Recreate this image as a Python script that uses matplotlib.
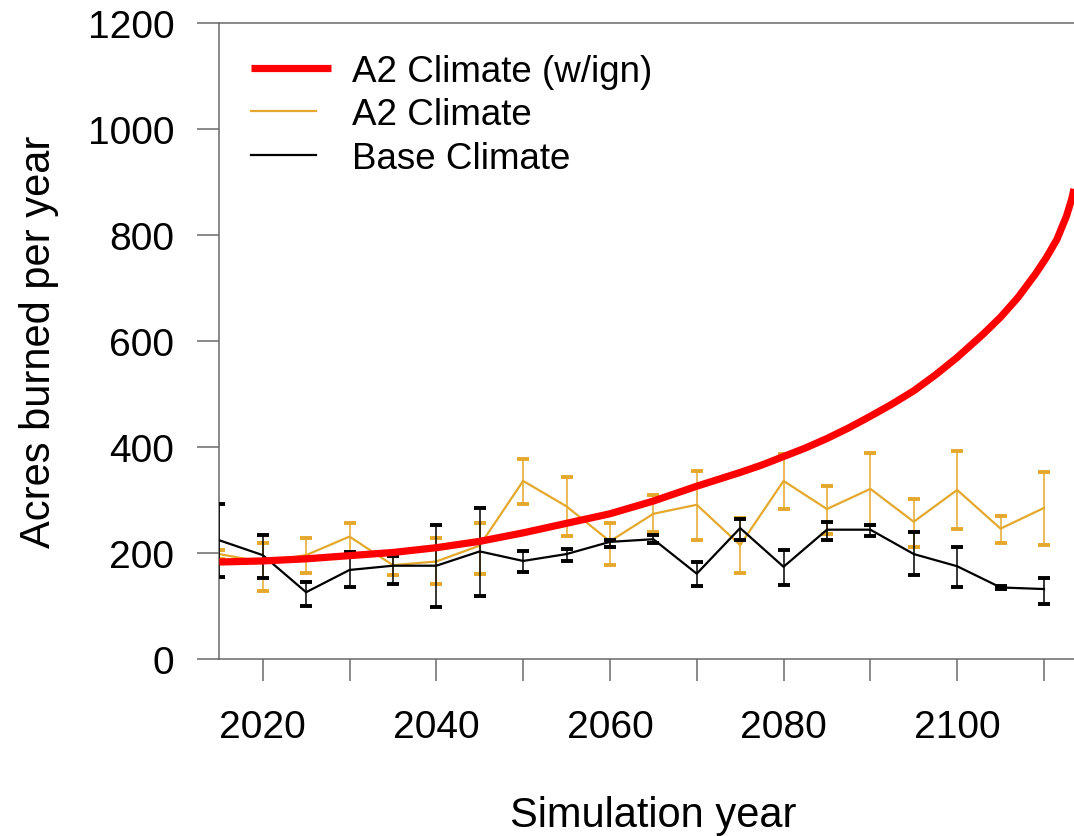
import matplotlib
matplotlib.use('Agg')
import matplotlib.pyplot as plt
from matplotlib.legend_handler import HandlerLine2D
from matplotlib.ticker import FixedLocator

plt.rcParams['font.family'] = ['Liberation Sans', 'DejaVu Sans']

# ---- data ----
years = [2015, 2020, 2025, 2030, 2035, 2040, 2045, 2050, 2055, 2060,
         2065, 2070, 2075, 2080, 2085, 2090, 2095, 2100, 2105, 2110]

base = [224, 196, 126, 168, 176, 176, 203, 185, 198, 221,
        226, 161, 247, 174, 244, 244, 198, 175, 135, 132]
base_upper = [292, 234, 145, 202, 195, 253, 284, 204, 208, 224,
              234, 183, 265, 206, 259, 253, 239, 212, 138, 152]
base_lower = [154, 152, 100, 135, 141, 98, 119, 164, 185, 211,
              219, 138, 225, 140, 225, 233, 158, 135, 132, 104]

a2 = [198, 183, 196, 231, 177, 184, 214, 336, 288, 222,
      274, 291, 215, 336, 283, 321, 259, 319, 246, 285]
a2_upper = [206, 218, 229, 256, 195, 228, 256, 378, 343, 256,
            309, 355, 266, 386, 326, 388, 301, 393, 270, 353]
a2_lower = [189, 129, 162, 201, 158, 141, 160, 293, 233, 177,
            239, 225, 162, 283, 236, 253, 212, 245, 218, 216]

ign_years = [2015, 2020, 2025, 2030, 2035, 2040, 2045, 2050, 2055, 2060,
             2065, 2070, 2075, 2077.5, 2080, 2082.5, 2085, 2087.5, 2090,
             2092.5, 2095, 2097.5, 2100, 2103, 2105, 2107, 2109, 2110.3,
             2111.5, 2112.6, 2113.2, 2113.46]
ign_vals = [183, 185, 189, 195, 201, 210, 222, 238, 256, 274,
            298, 326, 352, 366, 382, 398, 416, 436, 458,
            481, 506, 536, 569, 613, 645, 682, 726, 758,
            792, 836, 868, 887]

xticks = [2020, 2030, 2040, 2050, 2060, 2070, 2080, 2090, 2100, 2110]
xticklabels = ['2020', '', '2040', '', '2060', '', '2080', '', '2100', '']
yticks = [0, 200, 400, 600, 800, 1000, 1200]

YEL = '#E4A82C'
GRAY = '#6a6a6a'

W, H = 1074, 837
fig = plt.figure(figsize=(W / 100, H / 100), dpi=100)
ax = fig.add_axes([219.3 / W, 1 - 660 / H, (W - 219.3) / W, 636 / H])

yerr_a2 = [[v - l for v, l in zip(a2, a2_lower)], [u - v for v, u in zip(a2, a2_upper)]]
yerr_b = [[v - l for v, l in zip(base, base_lower)], [u - v for v, u in zip(base, base_upper)]]

eb_a2 = ax.errorbar(years, a2, yerr=yerr_a2, color=YEL, lw=1.6, elinewidth=1.1,
                    capsize=4.5, capthick=2.8, zorder=2)
eb_b = ax.errorbar(years, base, yerr=yerr_b, color='black', lw=1.6, elinewidth=1.1,
                   capsize=4.5, capthick=2.8, zorder=3)
red_line, = ax.plot(ign_years, ign_vals, color='#FF0000', lw=5.2, zorder=4,
                    solid_capstyle='butt', solid_joinstyle='round')

ax.set_xlim(2015, 2113.46)
ax.set_ylim(0, 1200)
ax.xaxis.set_major_locator(FixedLocator(xticks))
ax.set_xticklabels(xticklabels)
ax.set_yticks(yticks)

for s in ['left', 'bottom', 'top']:
    ax.spines[s].set_color(GRAY)
    ax.spines[s].set_linewidth(1.1)
ax.spines['right'].set_visible(False)

ax.tick_params(axis='both', colors=GRAY, labelcolor='black', width=1.1,
               length=16, labelsize=28)
ax.tick_params(axis='y', pad=16.5)
ax.tick_params(axis='x', pad=20)

ax.set_ylabel('Acres burned per year', fontsize=30)
ax.yaxis.set_label_coords(-0.1876, 0.5)
ax.set_xlabel('Simulation year', fontsize=30)
ax.xaxis.set_label_coords(0.5074, -0.214)


class ShortHandler(HandlerLine2D):
    def create_artists(self, legend, orig_handle, xdescent, ydescent, width,
                       height, fontsize, trans):
        return super().create_artists(legend, orig_handle, xdescent, ydescent,
                                      width * 0.81, height, fontsize, trans)


h_a2 = eb_a2.lines[0]
h_b = eb_b.lines[0]
leg = ax.legend([red_line, h_a2, h_b],
                ['A2 Climate (w/ign)', 'A2 Climate', 'Base Climate'],
                loc='upper left', bbox_to_anchor=(0.037, 0.952), frameon=False,
                fontsize=26.5, handlelength=2.17, handletextpad=0.57,
                labelspacing=0.24, borderpad=0, borderaxespad=0,
                handler_map={h_a2: ShortHandler(), h_b: ShortHandler()})

fig.savefig('out.png', dpi=100)
